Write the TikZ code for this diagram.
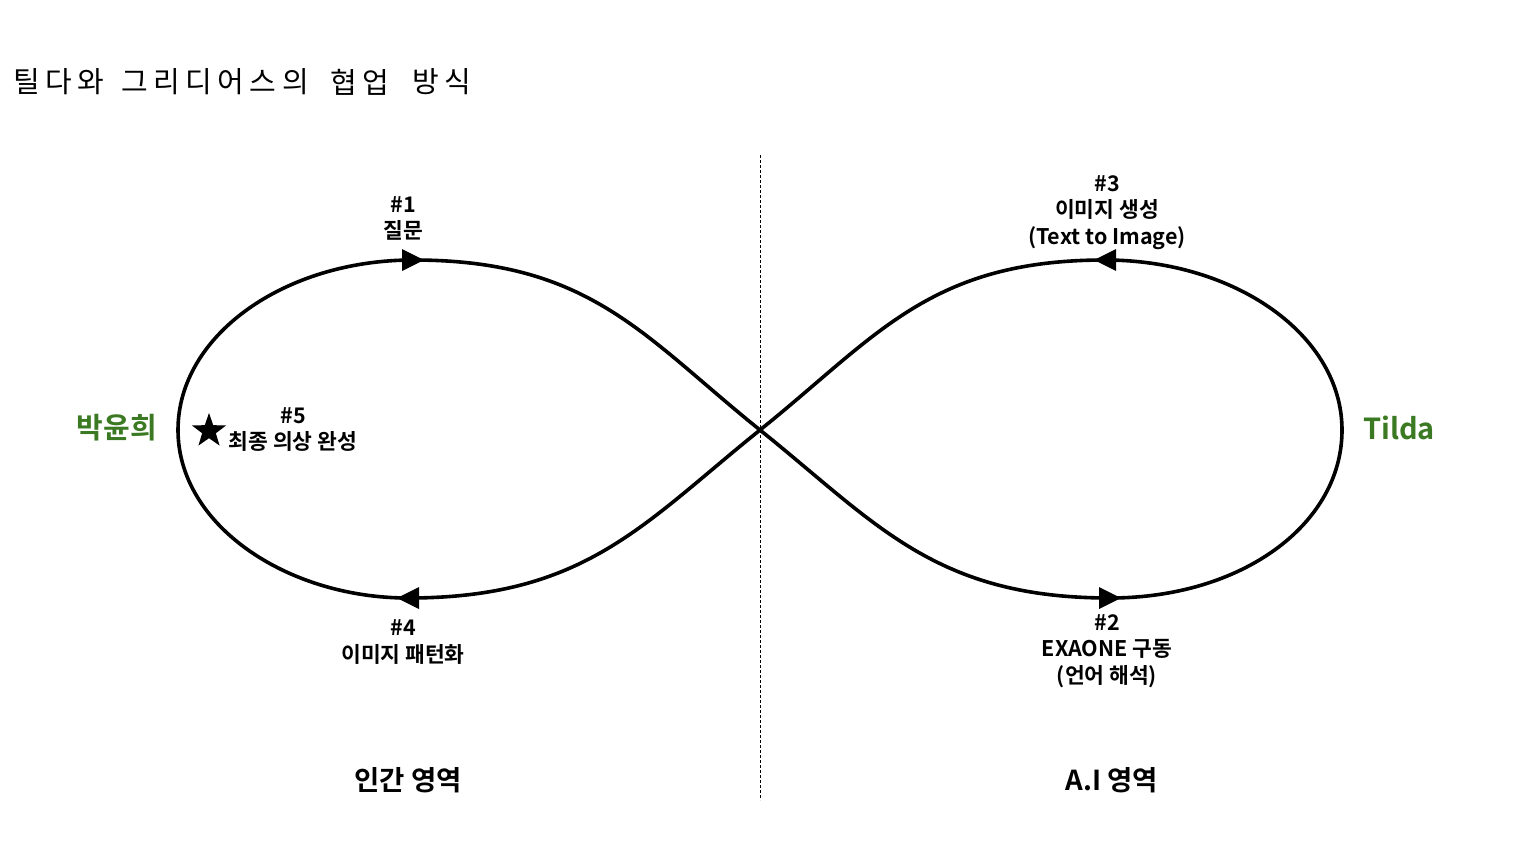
\documentclass[tikz,border=0pt]{standalone}
\usepackage{fontspec}
\usetikzlibrary{shapes.geometric}
\newfontfamily\krfont{Noto Sans CJK KR}
\newfontfamily\krbold{Noto Sans CJK KR Bold}
\definecolor{leafgreen}{RGB}{59,122,35}
\tikzset{
  lbl/.style={font=\krbold\fontsize{21.5}{26.5}\selectfont, align=center, inner sep=0pt},
  zone/.style={font=\krbold\fontsize{27.5}{30}\selectfont, inner sep=0pt},
  person/.style={font=\krbold\fontsize{29}{32}\selectfont, text=leafgreen, inner sep=0pt},
  titleword/.style={anchor=west, inner sep=0pt, font=\krfont\fontsize{29}{32}\selectfont\addfontfeature{LetterSpace=19}},
  loopline/.style={line width=3.6pt},
  tip/.style={fill=black},
}
\begin{document}
\begin{tikzpicture}[x=1pt,y=-1pt]
\useasboundingbox (0,0) rectangle (1524,857);
% title
\node[titleword] (t1) at (13,82) {틸다와};
\node[titleword] (t2) at (121,82) {그리디어스의};
\node[titleword] (t3) at (330,82) {협업};
\node[titleword] (t4) at (412,82) {방식};
% divider
\coordinate (dtop) at (760,155);
\coordinate (dbot) at (760,800);
\draw[line width=1pt, dash pattern=on 3pt off 2pt] (dtop) -- (dbot);
% key points
\coordinate (C) at (760,430);
\coordinate (TR) at (1105,260);
\coordinate (R) at (1342,430);
\coordinate (BR) at (1110,598);
\coordinate (TL) at (413,260);
\coordinate (L) at (178,430);
\coordinate (BL) at (408,598);
% infinity curve
\draw[loopline] (C) .. controls (877,336) and (930,260) .. (TR)
  .. controls (1235,260) and (1342,335) .. (R)
  .. controls (1342,525) and (1241,598) .. (BR)
  .. controls (935,598) and (877,524) .. (C)
  .. controls (643,524) and (585,598) .. (BL)
  .. controls (287,598) and (178,525) .. (L)
  .. controls (178,335) and (285,260) .. (TL)
  .. controls (590,260) and (643,336) .. (C);
% arrow tips
\fill[tip] ([xshift=11pt]TL) -- ([xshift=-11pt,yshift=-11pt]TL) -- ([xshift=-11pt,yshift=11pt]TL) -- cycle;
\fill[tip] ([xshift=11pt]BR) -- ([xshift=-11pt,yshift=-11pt]BR) -- ([xshift=-11pt,yshift=11pt]BR) -- cycle;
\fill[tip] ([xshift=-11pt]TR) -- ([xshift=11pt,yshift=-11pt]TR) -- ([xshift=11pt,yshift=11pt]TR) -- cycle;
\fill[tip] ([xshift=-11pt]BL) -- ([xshift=11pt,yshift=-11pt]BL) -- ([xshift=11pt,yshift=11pt]BL) -- cycle;
% labels
\node[lbl] (s1) at (403,218.5) {\#1\\질문};
\node[lbl] (s3) at (1107,212.5) {\#3\\이미지 생성\\(Text to Image)};
\node[lbl] (s5) at (293,429.5) {\#5\\최종 의상 완성};
\node[lbl] (s4) at (403,642) {\#4\\이미지 패턴화};
\node[lbl] (s2) at (1107,651) {\#2\\EXAONE 구동\\(언어 해석)};
\node[star, star points=5, star point ratio=2.5, fill=black, minimum size=36pt, inner sep=0pt] (star) at (209,431) {};
\node[person] (p1) at (117,428) {박윤희};
\node[person] (p2) at (1399,428) {Tilda};
\node[zone] (z1) at (408,780) {인간 영역};
\node[zone] (z2) at (1112,780) {A.I 영역};
\end{tikzpicture}
\end{document}
